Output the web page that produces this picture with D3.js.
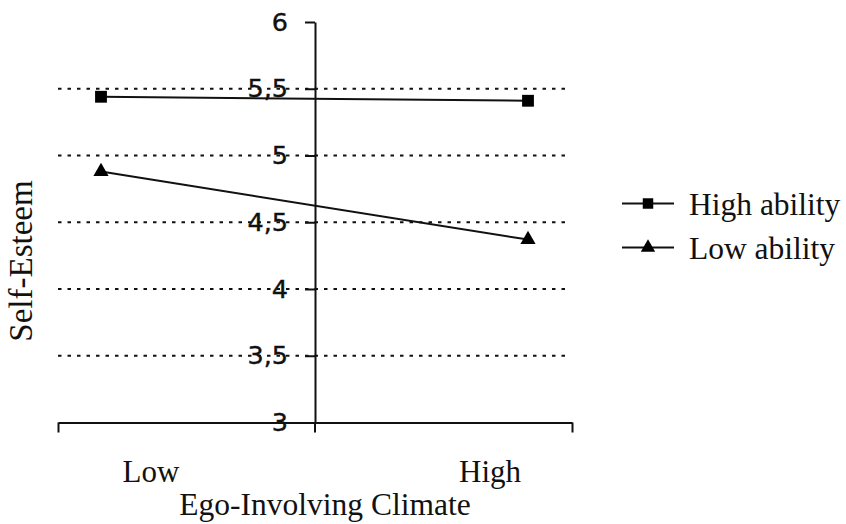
<!DOCTYPE html>
<html>
<head>
<meta charset="utf-8">
<script src="https://cdn.jsdelivr.net/npm/d3@7"></script>
<style>
  html, body { margin: 0; padding: 0; background: #fff; }
  svg { display: block; }
</style>
</head>
<body>
<svg id="chart" width="846" height="524"></svg>
<script>
// ---- data ----
const categories = ["Low", "High"];
const highAbility = [5.44, 5.41];
const lowAbility = [4.88, 4.37];
const seriesNames = ["High ability", "Low ability"];
const yTicks = [3, 3.5, 4, 4.5, 5, 5.5, 6];
const yTickLabels = ["3", "3,5", "4", "4,5", "5", "5,5", "6"];
const gridValues = [3.5, 4, 4.5, 5, 5.5];
const xTitle = "Ego-Involving Climate";
const yTitle = "Self-Esteem";

const svg = d3.select("#chart");
const serif = "Liberation Serif, Times New Roman, serif";

// scales
const y = d3.scaleLinear().domain([3, 6]).range([422.5, 22]);
const xPts = d3.scalePoint().domain(categories).range([101, 528]);
const xLab = d3.scalePoint().domain(categories).range([151, 490]);
const xAxisScale = d3.scaleLinear().domain([0, 2]).range([58, 572]);
const axisX = xAxisScale(1);

// gridlines
svg.append("g").selectAll("line").data(gridValues).join("line")
  .attr("x1", 58).attr("x2", 566)
  .attr("y1", d => y(d)).attr("y2", d => y(d))
  .attr("stroke", "#111").attr("stroke-width", 2)
  .attr("stroke-dasharray", "3.5,6");

// x axis (baseline)
const xAxis = d3.axisBottom(xAxisScale).tickValues([0, 2]).tickSize(10).tickSizeOuter(0).tickFormat("");
const gx = svg.append("g").attr("transform", `translate(0,${y(3)})`).call(xAxis);
gx.selectAll("path, line").attr("stroke", "#111").attr("stroke-width", 2);

// y axis
const yAxis = d3.axisLeft(y).tickValues(yTicks).tickSize(10).tickSizeOuter(0)
  .tickFormat((d, i) => yTickLabels[i]).tickPadding(17);
const gy = svg.append("g").attr("transform", `translate(${axisX},0)`).call(yAxis);
gy.select(".domain").attr("stroke", "#111").attr("stroke-width", 2);
gy.selectAll(".tick line").attr("stroke", "#111").attr("stroke-width", 2);
gy.selectAll(".tick text")
  .attr("font-family", "DejaVu Sans, Verdana, sans-serif")
  .attr("font-size", 25.5).attr("fill", "#111")
  .attr("stroke", "#111").attr("stroke-width", 0.4);
// y-axis line extends a bit below the baseline
svg.append("line").attr("x1", axisX).attr("x2", axisX)
  .attr("y1", y(3)).attr("y2", y(3) + 10)
  .attr("stroke", "#111").attr("stroke-width", 2);

// lines
const line = d3.line().x((d, i) => xPts(categories[i])).y(d => y(d));
const seriesData = [highAbility, lowAbility];
svg.append("g").selectAll("path").data(seriesData).join("path")
  .attr("d", d => line(d)).attr("fill", "none")
  .attr("stroke", "#111").attr("stroke-width", 2);

const square = d3.symbol().type(d3.symbolSquare).size(140);
const triangle = d3.symbol().type(d3.symbolTriangle).size(100);

svg.append("g").selectAll("path").data(highAbility).join("path")
  .attr("d", square())
  .attr("transform", (d, i) => `translate(${xPts(categories[i])},${y(d)})`)
  .attr("fill", "#000");
svg.append("g").selectAll("path").data(lowAbility).join("path")
  .attr("d", triangle())
  .attr("transform", (d, i) => `translate(${xPts(categories[i])},${y(d)})`)
  .attr("fill", "#000");

// category labels
svg.append("g").selectAll("text").data(categories).join("text")
  .attr("x", d => xLab(d)).attr("y", 482)
  .attr("text-anchor", "middle")
  .attr("font-family", serif)
  .attr("font-size", 31).attr("fill", "#111")
  .text(d => d);

// axis titles
svg.append("text").attr("x", 325).attr("y", 515)
  .attr("text-anchor", "middle")
  .attr("font-family", serif)
  .attr("font-size", 31.5).attr("fill", "#111")
  .text(xTitle);
svg.append("text").attr("transform", "translate(32,261) rotate(-90)")
  .attr("text-anchor", "middle")
  .attr("font-family", serif)
  .attr("font-size", 33).attr("fill", "#111")
  .text(yTitle);

// legend
const legendY = d3.scalePoint().domain(seriesNames).range([203.5, 247.5]);
const lg = svg.append("g").selectAll("g").data(seriesNames).join("g")
  .attr("transform", d => `translate(0,${legendY(d)})`);
lg.append("line").attr("x1", 622).attr("x2", 674).attr("y1", 0).attr("y2", 0)
  .attr("stroke", "#111").attr("stroke-width", 2);
lg.append("path")
  .attr("d", (d, i) => i === 0 ? square.size(110)() : triangle.size(90)())
  .attr("transform", "translate(648,0)")
  .attr("fill", "#000");
lg.append("text").attr("x", 689).attr("y", 11)
  .attr("font-family", serif)
  .attr("font-size", 31.5).attr("fill", "#111")
  .text(d => d);
</script>
</body>
</html>
